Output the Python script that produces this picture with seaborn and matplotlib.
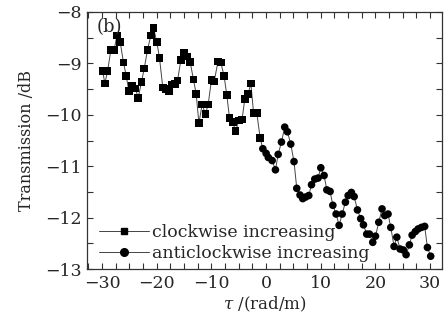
import numpy as np
import pandas as pd
import seaborn as sns
import matplotlib.pyplot as plt
from matplotlib.lines import Line2D
from matplotlib.ticker import MultipleLocator

# values
tau_cw = [-29.9, -29.5, -29.0, -28.4, -27.8, -27.3, -26.7, -26.1, -25.6, -25.1,
          -24.5, -23.9, -23.4, -22.8, -22.3, -21.7, -21.1, -20.6, -20.0, -19.5,
          -18.9, -18.4, -17.8, -17.3, -16.7, -16.2, -15.6, -15.0, -14.4, -13.9,
          -13.3, -12.8, -12.3, -11.7, -11.1, -10.6, -10.0, -9.5, -8.8, -8.3,
          -7.7, -7.2, -6.7, -6.1, -5.6, -5.0, -4.4, -3.9, -3.3, -2.8, -2.3, -1.7, -1.1]
trans_cw = [-9.15, -9.39, -9.15, -8.74, -8.74, -8.46, -8.58, -8.98, -9.24, -9.54,
            -9.43, -9.49, -9.67, -9.36, -9.10, -8.74, -8.46, -8.31, -8.58, -8.90,
            -9.47, -9.50, -9.54, -9.41, -9.40, -9.33, -8.94, -8.79, -8.87, -8.97,
            -9.31, -9.59, -10.16, -9.80, -9.99, -9.80, -9.32, -9.35, -8.96, -8.98,
            -9.24, -9.61, -10.06, -10.14, -10.32, -10.11, -10.09, -9.69, -9.60, -9.39,
            -9.96, -9.97, -10.45]

tau_acw = [-0.6, 0.0, 0.4, 1.1, 1.7, 2.2, 2.8, 3.4, 3.9, 4.5, 5.1, 5.6, 6.2, 6.7,
           7.2, 7.8, 8.3, 8.9, 9.5, 10.0, 10.6, 11.1, 11.7, 12.2, 12.8, 13.35, 13.9,
           14.5, 15.0, 15.6, 16.1, 16.7, 17.3, 17.8, 18.4, 18.9, 19.5, 20.0, 20.6,
           21.2, 21.7, 22.3, 22.8, 23.4, 23.9, 24.5, 25.1, 25.6, 26.2, 26.7, 27.3,
           27.8, 28.4, 29.0, 29.5, 30.1]
trans_acw = [-10.66, -10.75, -10.83, -10.89, -11.07, -10.77, -10.53, -10.24, -10.33,
             -10.57, -10.91, -11.43, -11.56, -11.63, -11.60, -11.57, -11.36, -11.25,
             -11.23, -11.03, -11.18, -11.46, -11.49, -11.76, -11.93, -12.15, -11.93,
             -11.70, -11.57, -11.51, -11.59, -11.85, -12.02, -12.14, -12.32, -12.32,
             -12.48, -12.36, -12.09, -11.83, -11.96, -11.93, -12.19, -12.56, -12.38,
             -12.61, -12.63, -12.72, -12.53, -12.34, -12.27, -12.22, -12.19, -12.17,
             -12.58, -12.75]

labels = ['clockwise increasing', 'anticlockwise increasing']

df = pd.concat([
    pd.DataFrame({'tau': tau_cw, 'T': trans_cw, 'dir': labels[0]}),
    pd.DataFrame({'tau': tau_acw, 'T': trans_acw, 'dir': labels[1]}),
], ignore_index=True)

sns.set_style('ticks')
plt.rcParams['font.family'] = ['DejaVu Serif']
plt.rcParams['mathtext.fontset'] = 'dejavuserif'

fig = plt.figure(figsize=(4.48, 3.23), dpi=100)
ax = fig.add_axes([0.195, 0.167, 0.792, 0.796])

sns.lineplot(data=df, x='tau', y='T', color='#444444', lw=0.7, sort=False,
             legend=False, ax=ax, zorder=1)
sns.scatterplot(data=df, x='tau', y='T', style='dir', markers=['s', 'o'],
                color='black', s=30, linewidth=0, legend=False, ax=ax, zorder=2)

ax.set_xlim(-32.7, 32.2)
ax.set_ylim(-13, -8)
ax.xaxis.set_major_locator(MultipleLocator(10))
ax.xaxis.set_minor_locator(MultipleLocator(2.5))
ax.yaxis.set_major_locator(MultipleLocator(1))
ax.yaxis.set_minor_locator(MultipleLocator(0.5))
ax.tick_params(which='both', direction='in', top=True, right=True,
               labelsize=12.5, color='#333333')
ax.tick_params(which='major', length=4, width=0.8, pad=4)
ax.tick_params(which='minor', length=4, width=0.8)
for sp in ax.spines.values():
    sp.set_linewidth(0.9)
    sp.set_color('#333333')

ax.set_xlabel(r'$\tau$ /(rad/m)', fontsize=12, labelpad=2)
ax.set_ylabel('Transmission /dB', fontsize=11.5, labelpad=7)
ax.text(0.027, 0.975, '(b)', transform=ax.transAxes, fontsize=13, va='top', ha='left')

handles = [Line2D([], [], color='#444444', lw=0.7, marker='s', ms=5,
                  mfc='black', mec='black'),
           Line2D([], [], color='#444444', lw=0.7, marker='o', ms=5.5,
                  mfc='black', mec='black')]
ax.legend(handles, labels, loc='lower left', frameon=False, fontsize=12.5,
          handlelength=2.9, handletextpad=0.15, labelspacing=0.2,
          borderaxespad=0.1, bbox_to_anchor=(0.008, -0.005))

fig.savefig('out.png', dpi=100)
